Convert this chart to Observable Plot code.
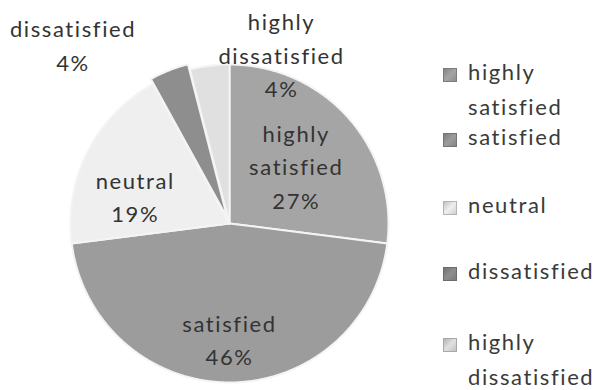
<!DOCTYPE html>
<html><head><meta charset="utf-8">
<script src="https://cdn.jsdelivr.net/npm/d3@7"></script>
<script src="https://cdn.jsdelivr.net/npm/@observablehq/plot@0.6"></script>
<style>
body{margin:0;background:#fff;font-family:Lato,"Open Sans",sans-serif;}
#wrap{position:relative;width:600px;height:390px;overflow:hidden;}
#wrap svg{position:absolute;left:0;top:0;}
#wrap svg text{letter-spacing:1.6px;font-variant-ligatures:none;}
.ln{position:absolute;left:468px;font-size:22px;line-height:26px;height:26px;color:#3a3a3a;white-space:pre;letter-spacing:1.6px;font-variant-ligatures:none;}
.sw{position:absolute;left:443px;width:14px;height:14px;box-sizing:border-box;}
</style></head><body><div id="wrap"></div>
<script>
// ---- data ----
const categories = ["highly satisfied", "satisfied", "neutral", "dissatisfied", "highly dissatisfied"];
const shares = [27, 46, 19, 4, 4];
const labelLines = ["highly\nsatisfied", "satisfied", "neutral", "dissatisfied", "highly\ndissatisfied"];
const colors = ["#a5a5a5", "#9c9c9c", "#efefef", "#8e8e8e", "#e0e0e0"];

// ---- layout (not data) ----
const explode = [0, 0, 0, 0.035, 0];
const labelAngleDeg = [null, null, 287, 319, 17]; // null -> mid angle
const labelRadius = [0.56, 0.72, 0.62, 1.5, 1.12];
const legendCenters = [75, 140, 208, 274, 345];
const legendLineGap = 35;

const total = d3.sum(shares);
const pts = [];
const labels = [];
let cum = 0;
categories.forEach((c, i) => {
  const a0 = cum / total * 2 * Math.PI;
  cum += shares[i];
  const a1 = cum / total * 2 * Math.PI;
  const mid = (a0 + a1) / 2;
  const ox = explode[i] * Math.sin(mid), oy = explode[i] * Math.cos(mid);
  pts.push({cat: c, x: ox, y: oy});
  const n = Math.max(4, Math.ceil((a1 - a0) / 0.01));
  for (let k = 0; k <= n; k++) {
    const a = a0 + (a1 - a0) * k / n;
    pts.push({cat: c, x: ox + Math.sin(a), y: oy + Math.cos(a)});
  }
  pts.push({cat: c, x: ox, y: oy});
  const la = labelAngleDeg[i] == null ? mid : labelAngleDeg[i] * Math.PI / 180;
  labels.push({cat: c, text: labelLines[i] + "\n" + shares[i] + "%", x: labelRadius[i] * Math.sin(la), y: labelRadius[i] * Math.cos(la)});
});

const chart = Plot.plot({
  width: 600, height: 390,
  style: {background: "transparent", fontFamily: "Lato, sans-serif"},
  x: {domain: [-1, 1], range: [70, 388], axis: null},
  y: {domain: [-1, 1], range: [382, 64], axis: null},
  color: {domain: categories, range: colors},
  marks: [
    Plot.line(pts, {x: "x", y: "y", z: "cat", fill: "cat", stroke: "#f4f4f4", strokeWidth: 2, strokeLinejoin: "round"}),
    Plot.text(labels, {x: "x", y: "y", text: "text", fontSize: 22, lineHeight: 1.52, fill: "#333"})
  ]
});
const wrap = document.getElementById("wrap");
wrap.appendChild(chart);

categories.forEach((c, i) => {
  const cy = legendCenters[i];
  const sw = document.createElement("div");
  sw.className = "sw";
  sw.style.top = (cy - 7) + "px";
  sw.style.background = `linear-gradient(135deg, ${d3.color(colors[i]).darker(0.6)}, ${colors[i]} 50%, ${d3.color(colors[i]).darker(0.4)})`;
  sw.style.border = "1px solid " + d3.color(colors[i]).darker(0.8);
  wrap.appendChild(sw);
  labelLines[i].split("\n").forEach((t, k) => {
    const ln = document.createElement("div");
    ln.className = "ln";
    ln.style.top = (cy - 16 + k * legendLineGap) + "px";
    ln.textContent = t;
    wrap.appendChild(ln);
  });
});
</script></body></html>
